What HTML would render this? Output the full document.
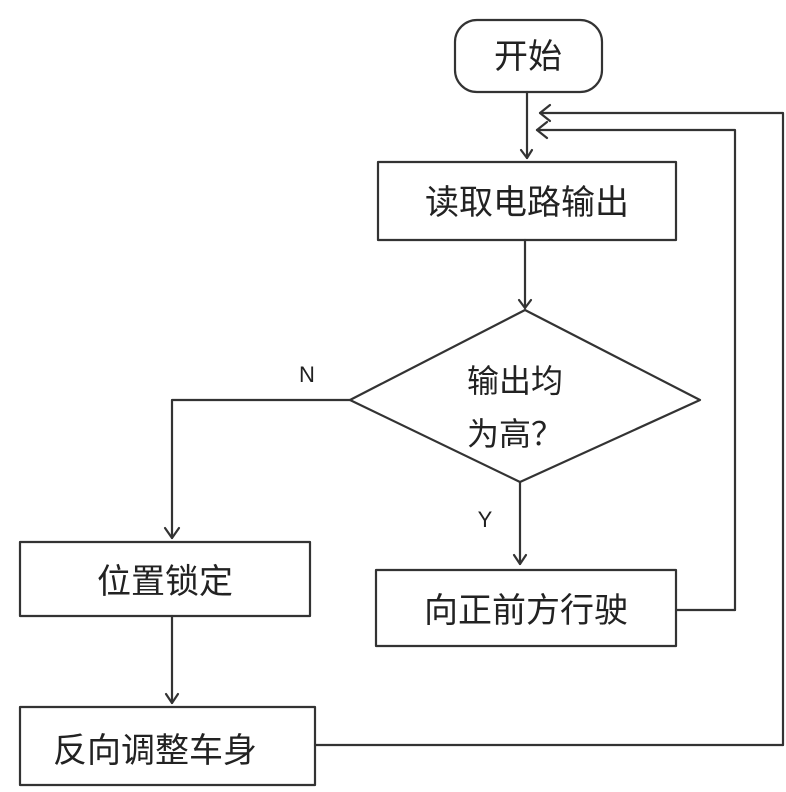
<!DOCTYPE html>
<html><head><meta charset="utf-8"><style>
body{margin:0;background:#fff;}
svg{display:block}
text{font-family:"Liberation Sans","Noto Sans CJK SC",sans-serif;fill:#222;}
</style></head><body>
<svg width="786" height="792" viewBox="0 0 786 792" xmlns="http://www.w3.org/2000/svg">
<g fill="none" stroke="#333" stroke-width="2.2" stroke-linecap="round" stroke-linejoin="round">
<rect x="455" y="20" width="147" height="72" rx="22"/>
<line x1="527" y1="92" x2="527" y2="158"/>
<polyline points="521,150 527,158 532,150"/>
<polyline points="783,745 783,113 540,113"/>
<polyline points="550,105 540,113 550,121"/>
<polyline points="735,610 735,130 537,130"/>
<polyline points="547,122 537,130 547,138"/>
<line x1="676" y1="610" x2="735" y2="610"/>
<line x1="315" y1="745" x2="783" y2="745"/>
<rect x="378" y="162" width="298" height="78"/>
<line x1="525" y1="240" x2="525" y2="308"/>
<polyline points="519,300 525,308 531,300"/>
<polygon points="350,400 525,310 700,400 520,482"/>
<polyline points="350,400 172,400 172,538"/>
<polyline points="165,528 172,538 179,528"/>
<rect x="20" y="542" width="290" height="74"/>
<line x1="172" y1="616" x2="172" y2="703"/>
<polyline points="166,694 172,703 178,694"/>
<rect x="20" y="707" width="295" height="78"/>
<line x1="520" y1="482" x2="520" y2="564"/>
<polyline points="514,555 520,564 526,555"/>
<rect x="376" y="570" width="300" height="76"/>
</g>
<g font-size="34" text-anchor="middle">
<text x="528" y="68">开始</text>
<text x="527" y="214">读取电路输出</text>
<text x="515" y="392" font-size="32">输出均</text>
<text x="515" y="445" font-size="32">为高？</text>
<text x="165" y="593">位置锁定</text>
<text x="155" y="762">反向调整车身</text>
<text x="526" y="622">向正前方行驶</text>
<text x="307" y="382" font-size="22">N</text>
<text x="485" y="527" font-size="22">Y</text>
</g>
</svg>
</body></html>
